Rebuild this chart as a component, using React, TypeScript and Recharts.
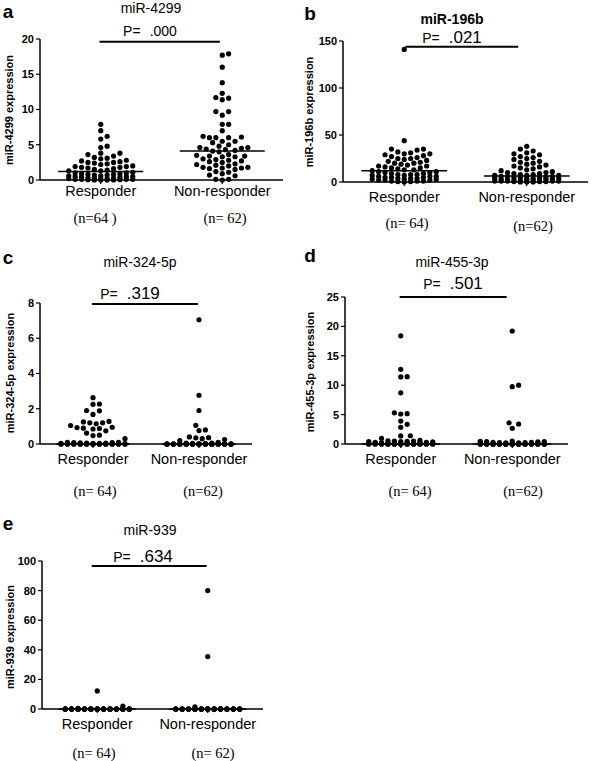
import React from 'react'
import { ReferenceLine, Scatter, ScatterChart, XAxis, YAxis } from 'recharts'

const groups = ['Responder', 'Non-responder']
const groupCenters = [0.5, 1.5]

const panelLetters = ['a', 'b', 'c', 'd', 'e']
const panelTitles = ['miR-4299', 'miR-196b', 'miR-324-5p', 'miR-455-3p', 'miR-939']
const pValues = ['.000', '.021', '.319', '.501', '.634']
const yLabels = [
  'miR-4299 expression',
  'miR-196b expression',
  'miR-324-5p expression',
  'miR-455-3p expression',
  'miR-939 expression',
]
const yTicks = [
  [0, 5, 10, 15, 20],
  [0, 50, 100, 150],
  [0, 2, 4, 6, 8],
  [0, 5, 10, 15, 20, 25],
  [0, 20, 40, 60, 80, 100],
]
const nLabels = [
  ['(n=64 )', '(n= 62)'],
  ['(n= 64)', '(n=62)'],
  ['(n= 64)', '(n=62)'],
  ['(n= 64)', '(n=62)'],
  ['(n= 64)', '(n= 62)'],
]
// medians [responder, non-responder]
const medians = [
  [1.2, 4.1],
  [12, 6.5],
  [0, 0],
  [0, 0],
  [0, 0],
]

const mir4299Responder = [
  7.9, 7.0, 6.2, 5.8, 4.8, 4.6, 3.8, 3.8, 3.6, 3.4,
  3.2, 3.1, 3.0, 2.8, 2.7, 2.6, 2.5, 2.5, 2.4, 2.3,
  2.2, 2.0, 1.9, 1.9, 1.8, 1.8, 1.7, 1.6, 1.5, 1.4,
  1.3, 1.3, 1.1, 1.0, 1.0, 0.9, 0.9, 0.8, 0.8, 0.7,
  0.7, 0.6, 0.6, 0.5, 0.5, 0.5, 0.4, 0.4, 0.3, 0.3,
  0.3, 0.2, 0.2, 0.2, 0.1, 0.1, 0.1, 0.1, 0.05, 0.05,
  0, 0, 0, 0,
]
const mir4299NonResponder = [
  17.9, 17.7, 16.0, 13.8, 12.3, 11.7, 11.6, 11.4, 9.7, 9.7,
  9.2, 7.9, 7.9, 7.0, 6.2, 6.1, 6.0, 6.0, 6.0, 5.5,
  5.5, 5.3, 5.0, 4.8, 4.6, 4.6, 4.5, 4.4, 4.3, 4.2,
  4.1, 4.0, 3.6, 3.5, 3.4, 3.4, 3.3, 3.3, 3.0, 2.9,
  2.8, 2.7, 2.6, 2.5, 2.3, 2.2, 2.1, 2.0, 1.8, 1.8,
  1.7, 1.7, 1.6, 1.5, 1.2, 1.1, 0.9, 0.7, 0.6, 0.1,
  0.1, 0.0,
]
const mir196bResponder = [
  141, 44, 35, 35, 34, 32, 31, 30, 30, 29,
  28, 27, 26, 25, 25, 24, 23, 22, 21, 20,
  20, 19, 18, 17, 17, 16, 15, 15, 14, 13,
  13, 12, 11, 11, 10, 10, 9, 9, 8, 8,
  8, 7, 7, 6, 6, 6, 5, 5, 5, 4,
  4, 4, 3, 3, 3, 2, 2, 2, 1, 1,
  1, 0.5, 0.5, 0,
]
const mir196bNonResponder = [
  38, 35, 33, 31, 30, 29, 27, 26, 25, 24,
  22, 21, 20, 19, 18, 17, 16, 15, 14, 13,
  12, 11, 10, 10, 9, 9, 8, 8, 7, 7,
  7, 6, 6, 6, 5, 5, 5, 5, 4, 4,
  4, 4, 3, 3, 3, 3, 2, 2, 2, 2,
  2, 1, 1, 1, 1, 1, 0.5, 0.5, 0.5, 0,
  0, 0,
]
const mir324Responder = [
  2.63, 2.27, 2.25, 1.9, 1.88, 1.68, 1.28, 1.25, 1.2, 1.2,
  1.15, 1.05, 0.95, 0.93, 0.9, 0.88, 0.85, 0.75, 0.62, 0.5,
  0.48, 0.3, 0.1, 0.1, 0.08, 0.08, 0.06, 0.05, 0.05, 0.04,
  0.03, 0.03, 0.02, 0.02, 0.01, 0.01, 0, 0, 0, 0,
  0, 0, 0, 0, 0, 0, 0, 0, 0, 0,
  0, 0, 0, 0, 0, 0, 0, 0, 0, 0,
  0, 0, 0, 0,
]
const mir324NonResponder = [
  7.05, 2.76, 1.9, 1.06, 0.8, 0.76, 0.4, 0.36, 0.35, 0.3,
  0.25, 0.2, 0.1, 0.05, 0.05, 0.03, 0.02, 0.01, 0, 0,
  0, 0, 0, 0, 0, 0, 0, 0, 0, 0,
  0, 0, 0, 0, 0, 0, 0, 0, 0, 0,
  0, 0, 0, 0, 0, 0, 0, 0, 0, 0,
  0, 0, 0, 0, 0, 0, 0, 0, 0, 0,
  0, 0,
]
const mir455Responder = [
  18.4, 12.7, 11.45, 11.4, 8.7, 5.3, 5.16, 5.1, 3.9, 3.35,
  2.84, 1.4, 1.38, 0.97, 0.6, 0.55, 0.5, 0.5, 0.45, 0.4,
  0.4, 0.35, 0.3, 0.3, 0.25, 0.25, 0.2, 0.2, 0.2, 0.15,
  0.15, 0.1, 0.1, 0.1, 0.05, 0.05, 0.05, 0.02, 0.02, 0,
  0, 0, 0, 0, 0, 0, 0, 0, 0, 0,
  0, 0, 0, 0, 0, 0, 0, 0, 0, 0,
  0, 0, 0, 0,
]
const mir455NonResponder = [
  19.2, 10.0, 9.75, 3.6, 3.4, 2.67, 0.5, 0.45, 0.4, 0.4,
  0.35, 0.3, 0.3, 0.25, 0.25, 0.2, 0.2, 0.15, 0.15, 0.1,
  0.1, 0.1, 0.05, 0.05, 0, 0, 0, 0, 0, 0,
  0, 0, 0, 0, 0, 0, 0, 0, 0, 0,
  0, 0, 0, 0, 0, 0, 0, 0, 0, 0,
  0, 0, 0, 0, 0, 0, 0, 0, 0, 0,
  0, 0,
]
const mir939Responder = [
  12.2, 2.0, 0.4, 0, 0, 0, 0, 0, 0, 0,
  0, 0, 0, 0, 0, 0, 0, 0, 0, 0,
  0, 0, 0, 0, 0, 0, 0, 0, 0, 0,
  0, 0, 0, 0, 0, 0, 0, 0, 0, 0,
  0, 0, 0, 0, 0, 0, 0, 0, 0, 0,
  0, 0, 0, 0, 0, 0, 0, 0, 0, 0,
  0, 0, 0, 0,
]
const mir939NonResponder = [
  80, 35.4, 1.5, 0.3, 0, 0, 0, 0, 0, 0,
  0, 0, 0, 0, 0, 0, 0, 0, 0, 0,
  0, 0, 0, 0, 0, 0, 0, 0, 0, 0,
  0, 0, 0, 0, 0, 0, 0, 0, 0, 0,
  0, 0, 0, 0, 0, 0, 0, 0, 0, 0,
  0, 0, 0, 0, 0, 0, 0, 0, 0, 0,
  0, 0,
]

const groupValues = [
  [mir4299Responder, mir4299NonResponder],
  [mir196bResponder, mir196bNonResponder],
  [mir324Responder, mir324NonResponder],
  [mir455Responder, mir455NonResponder],
  [mir939Responder, mir939NonResponder],
]

// pixel placement of each panel (plot box, texts)
const layouts = [
  {
    plot: [40, 283, 39, 180], tickMargin: 2, sig: [0.49, 1.48, 19.6],
    letter: [8, 11], title: [151, 8], titleBold: false, p: [150, 31], pSize: 14,
    yLabel: [9, 110], n: [[95, 218], [225, 218]],
  },
  {
    plot: [343, 588, 41, 182], tickMargin: 6, sig: [0.51, 1.43, 144],
    letter: [310, 13], title: [452, 19], titleBold: true, p: [452, 37], pSize: 17,
    yLabel: [309, 112], n: [[407, 223], [533, 226]],
  },
  {
    plot: [40, 252, 303, 444], tickMargin: 6, sig: [0.49, 1.49, 7.95],
    letter: [8, 257], title: [140, 262], titleBold: false, p: [130, 293], pSize: 17,
    yLabel: [10, 373], n: [[95, 491], [203, 491]],
  },
  {
    plot: [345, 568, 297, 444], tickMargin: 6, sig: [0.49, 1.45, 25],
    letter: [310, 255], title: [452, 262], titleBold: false, p: [453, 283], pSize: 17,
    yLabel: [310, 372], n: [[410, 491], [523, 491]],
  },
  {
    plot: [42, 263, 561, 709], tickMargin: 6, sig: [0.45, 1.49, 96.6],
    letter: [8, 523], title: [150, 530], titleBold: false, p: [143, 556], pSize: 17,
    yLabel: [10, 637], n: [[94, 753], [213, 753]],
  },
]

const SANS = '"Liberation Sans", Arial, Helvetica, sans-serif'
const SERIF = '"Liberation Serif", "Times New Roman", serif'
const DOT_R = 2.6
const STEP = 6.4
const MAX_OFFSET = 33
const MIN_DIST = 5.6
const MEDIAN_HALF = 0.35

// simple beeswarm: spread equal-ish values sideways, capped width;
// once a row is full, extra dots stack on the full-step slots
function swarm(values: number[], center: number, pxPerY: number, pxPerX: number) {
  const cands: number[] = [0]
  for (let k = 1; (k * STEP) / 2 <= MAX_OFFSET; k++) cands.push((k * STEP) / 2, (-k * STEP) / 2)
  const fullSlots = cands.filter((c) => Math.abs(c / STEP - Math.round(c / STEP)) < 1e-6)
  const placed: { x: number; y: number }[] = []
  let overflow = 0
  return [...values]
    .sort((a, b) => a - b)
    .map((v) => {
      const py = v * pxPerY
      let chosen: number | null = null
      for (const c of cands) {
        let d = Infinity
        for (const q of placed) d = Math.min(d, Math.hypot(c - q.x, py - q.y))
        if (d >= MIN_DIST) {
          chosen = c
          break
        }
      }
      if (chosen === null) {
        chosen = fullSlots[overflow % fullSlots.length]
        overflow++
      }
      placed.push({ x: chosen, y: py })
      return { x: center + chosen / pxPerX, y: v }
    })
}

const Dot = (props: any) => <circle cx={props.cx} cy={props.cy} r={DOT_R} fill="#000" />

const absText = (x: number, y: number, style: React.CSSProperties, text: string, key?: string) => (
  <div
    key={key}
    style={{
      position: 'absolute',
      left: x,
      top: y,
      transform: 'translate(-50%, -50%)',
      whiteSpace: 'nowrap',
      lineHeight: 1,
      color: '#000',
      ...style,
    }}
  >
    {text}
  </div>
)

const LEFT = 45
const TOP = 30
const RIGHT = 10
const BOTTOM = 34

function Panel({ index }: { index: number }) {
  const lay = layouts[index]
  const [pl, pr, pt, pb] = lay.plot
  const plotW = pr - pl
  const plotH = pb - pt
  const ticks = yTicks[index]
  const yMax = ticks[ticks.length - 1]
  const pxPerY = plotH / yMax
  const pxPerX = plotW / 2
  const series = groupValues[index].map((vals, g) => swarm(vals, groupCenters[g], pxPerY, pxPerX))

  return (
    <>
      <div style={{ position: 'absolute', left: pl - LEFT, top: pt - TOP }}>
        <ScatterChart
          width={plotW + LEFT + RIGHT}
          height={plotH + TOP + BOTTOM}
          margin={{ top: TOP, right: RIGHT, bottom: 0, left: 0 }}
        >
          <XAxis
            type="number"
            dataKey="x"
            domain={[0, 2]}
            ticks={groupCenters}
            interval={0}
            tickFormatter={(v: number) => groups[groupCenters.indexOf(v)] ?? ''}
            height={BOTTOM}
            tickSize={4}
            tickMargin={lay.tickMargin}
            axisLine={{ stroke: '#000', strokeWidth: 1.5 }}
            tickLine={{ stroke: '#000', strokeWidth: 1.2 }}
            tick={{ fill: '#000', fontSize: 14.5, fontFamily: SANS }}
          />
          <YAxis
            type="number"
            dataKey="y"
            domain={[0, yMax]}
            ticks={ticks}
            interval={0}
            width={LEFT}
            tickSize={4}
            tickMargin={2}
            axisLine={{ stroke: '#000', strokeWidth: 1.5 }}
            tickLine={{ stroke: '#000', strokeWidth: 1.2 }}
            tick={{ fill: '#000', fontSize: 11, fontWeight: 'bold', fontFamily: SANS }}
          />
          <ReferenceLine
            segment={[
              { x: lay.sig[0], y: lay.sig[2] },
              { x: lay.sig[1], y: lay.sig[2] },
            ]}
            stroke="#000"
            strokeWidth={2}
            ifOverflow="visible"
          />
          {medians[index].map((m, g) => (
            <ReferenceLine
              key={g}
              segment={[
                { x: groupCenters[g] - MEDIAN_HALF, y: m },
                { x: groupCenters[g] + MEDIAN_HALF, y: m },
              ]}
              stroke="#000"
              strokeWidth={1.5}
              ifOverflow="visible"
            />
          ))}
          {series.map((pts, g) => (
            <Scatter key={groups[g]} name={groups[g]} data={pts} shape={Dot} isAnimationActive={false} />
          ))}
        </ScatterChart>
      </div>
      {absText(lay.letter[0], lay.letter[1], { fontFamily: SANS, fontWeight: 'bold', fontSize: 19 }, panelLetters[index])}
      {absText(
        lay.title[0],
        lay.title[1],
        { fontFamily: SANS, fontSize: 14, fontWeight: lay.titleBold ? 'bold' : 'normal' },
        panelTitles[index],
      )}
      <div
        style={{
          position: 'absolute',
          left: lay.p[0],
          top: lay.p[1],
          transform: 'translate(-50%, -50%)',
          whiteSpace: 'nowrap',
          lineHeight: 1,
          fontFamily: SANS,
          display: 'flex',
          alignItems: 'baseline',
        }}
      >
        <span style={{ fontSize: 14 }}>P=</span>
        <span style={{ fontSize: lay.pSize, marginLeft: 9 }}>{pValues[index]}</span>
      </div>
      {absText(
        lay.yLabel[0],
        lay.yLabel[1],
        {
          fontFamily: SANS,
          fontSize: 11,
          fontWeight: 'bold',
          transform: 'translate(-50%, -50%) rotate(-90deg)',
        },
        yLabels[index],
      )}
      {nLabels[index].map((t, g) =>
        absText(lay.n[g][0], lay.n[g][1], { fontFamily: SERIF, fontSize: 14.5 }, t, `n${g}`),
      )}
    </>
  )
}

export default function App() {
  return (
    <div style={{ position: 'absolute', left: 0, top: 0, width: 614, height: 761, background: '#fff' }}>
      {layouts.map((_, i) => (
        <Panel key={i} index={i} />
      ))}
    </div>
  )
}
